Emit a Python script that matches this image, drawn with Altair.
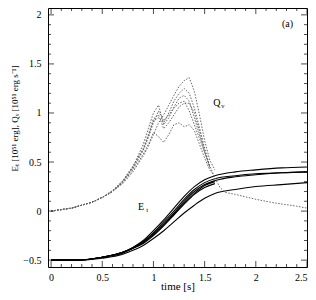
import altair as alt
import pandas as pd

# ---------------- data ----------------
t_E = [0, 0.25, 0.5, 0.7, 0.8, 0.9, 1.0, 1.1, 1.2, 1.3, 1.4, 1.5, 1.6, 1.8, 2.0, 2.25, 2.5]
E1 = [-0.5, -0.5, -0.47, -0.42, -0.37, -0.30, -0.20, -0.09, 0.03, 0.15, 0.25, 0.32, 0.36, 0.40, 0.42, 0.44, 0.45]
E2 = [-0.5, -0.5, -0.47, -0.42, -0.37, -0.31, -0.22, -0.11, 0.00, 0.12, 0.22, 0.29, 0.33, 0.36, 0.38, 0.39, 0.40]
E3 = [-0.5, -0.5, -0.47, -0.42, -0.38, -0.32, -0.23, -0.13, -0.02, 0.10, 0.20, 0.27, 0.31, 0.35, 0.37, 0.39, 0.40]
E4 = [-0.5, -0.5, -0.47, -0.43, -0.38, -0.33, -0.25, -0.15, -0.04, 0.07, 0.17, 0.24, 0.28]
E5 = [-0.5, -0.5, -0.48, -0.44, -0.40, -0.35, -0.28, -0.20, -0.11, -0.02, 0.06, 0.13, 0.18, 0.22, 0.25, 0.27, 0.29]
E6 = [-0.5, -0.5, -0.47, -0.42, -0.38, -0.32, -0.24, -0.14, -0.03, 0.08, 0.18, 0.26, 0.30]

t_Q = [0, 0.2, 0.4, 0.5, 0.6, 0.7, 0.8, 0.9, 0.95, 1.0, 1.05, 1.1, 1.15, 1.2, 1.25, 1.3,
       1.35, 1.4, 1.45, 1.5, 1.55, 1.6, 1.65, 1.7, 1.8, 2.0, 2.2, 2.4, 2.5]
Q1 = [0, 0.03, 0.09, 0.14, 0.20, 0.28, 0.40, 0.56, 0.66, 0.78, 0.90, 0.98, 1.08, 1.18, 1.27, 1.33,
      1.36, 1.22, 0.98, 0.72, 0.52, 0.42]
Q2 = [0, 0.03, 0.09, 0.14, 0.20, 0.30, 0.45, 0.68, 0.84, 1.00, 1.08, 0.88, 0.95, 1.06, 1.15, 1.18,
      1.12, 0.95, 0.78, 0.60, 0.44]
Q3 = [0, 0.03, 0.09, 0.14, 0.21, 0.31, 0.46, 0.64, 0.78, 0.94, 0.98, 0.84, 0.90, 0.98, 1.06, 1.10,
      1.10, 1.00, 0.82, 0.62, 0.45]
Q4 = [0, 0.03, 0.09, 0.14, 0.20, 0.29, 0.42, 0.58, 0.68, 0.80, 0.76, 0.70, 0.78, 0.88, 0.90, 0.86,
      0.88, 0.82, 0.68, 0.54, 0.42, 0.35]
Q5 = [0, 0.03, 0.09, 0.14, 0.20, 0.30, 0.44, 0.62, 0.75, 0.90, 1.02, 0.92, 0.98, 1.05, 1.10, 1.12,
      1.02, 0.88, 0.74, 0.60, 0.46, 0.34, 0.24, 0.19, 0.17, 0.12, 0.08, 0.05, 0.03]
Q6 = [0, 0.03, 0.09, 0.14, 0.20, 0.30, 0.44, 0.62, 0.76, 0.92, 0.95, 0.90, 1.00, 1.12, 1.20, 1.25,
      1.20, 1.05, 0.85, 0.64, 0.46]

x_major = [0, 0.5, 1, 1.5, 2, 2.5]
x_minor = [0.1, 0.2, 0.3, 0.4, 0.6, 0.7, 0.8, 0.9, 1.1, 1.2, 1.3, 1.4,
           1.6, 1.7, 1.8, 1.9, 2.1, 2.2, 2.3, 2.4]
y_major = [-0.5, 0, 0.5, 1, 1.5, 2]
y_minor = [-0.4, -0.3, -0.2, -0.1, 0.1, 0.2, 0.3, 0.4, 0.6, 0.7, 0.8, 0.9,
           1.1, 1.2, 1.3, 1.4, 1.6, 1.7, 1.8, 1.9]

ann_text = ["(a)", "Q", "E"]
ann_x = [2.31, 1.62, 0.88]
ann_y = [1.91, 1.10, 0.04]
sub_text = ["ν", "t"]
sub_x = [1.62, 0.88]
sub_y = [1.10, 0.04]

# ---------------- build tables ----------------
rows_E = []
for name, ys in [("E1", E1), ("E2", E2), ("E3", E3), ("E4", E4), ("E5", E5), ("E6", E6)]:
    for t, v in zip(t_E, ys):
        rows_E.append({"curve": name, "t": t, "v": v})
dfE = pd.DataFrame(rows_E)

rows_Q = []
for name, ys in [("Q1", Q1), ("Q2", Q2), ("Q3", Q3), ("Q4", Q4), ("Q5", Q5), ("Q6", Q6)]:
    for t, v in zip(t_Q, ys):
        rows_Q.append({"curve": name, "t": t, "v": v})
dfQ = pd.DataFrame(rows_Q)

dfA = pd.DataFrame({"t": ann_x, "v": ann_y, "label": ann_text})
dfS = pd.DataFrame({"t": sub_x, "v": sub_y, "label": sub_text})

W, H = 259, 259
XS = alt.Scale(domain=[-0.03, 2.5], nice=False, zero=False)
YS = alt.Scale(domain=[-0.57, 2.07], nice=False, zero=False)
FONT = "Liberation Serif"

x_axis = alt.Axis(values=x_major, format="~g", ticks=False, domain=False, grid=False,
                  title="time [s]", labelFont=FONT, labelFontSize=10, labelColor="black",
                  labelPadding=5, labelFlush=True, titleFont=FONT, titleFontSize=11,
                  titleFontWeight=400, titleColor="black", titleBaseline="middle",
                  titleY=19)
y_axis = alt.Axis(values=y_major, format="~g", ticks=False, domain=False, grid=False,
                  title="Eₜ [10⁵¹ erg],  Qᵥ [10⁵¹ erg s⁻¹]", labelFont=FONT,
                  labelFontSize=10, labelColor="black", labelPadding=7, labelFlush=False,
                  titleFont=FONT, titleFontSize=9, titleFontWeight=400,
                  titleColor="black", titleBaseline="middle", titleX=-34, titleY=110)

lineE = alt.Chart(dfE).mark_line(color="black", strokeWidth=1.1, interpolate="monotone").encode(
    x=alt.X("t:Q", scale=XS, axis=x_axis),
    y=alt.Y("v:Q", scale=YS, axis=y_axis),
    detail="curve:N",
)

lineQ = alt.Chart(dfQ).mark_line(color="#666666", strokeWidth=1.0, strokeDash=[1.5, 1.5]).encode(
    x=alt.X("t:Q", scale=XS),
    y=alt.Y("v:Q", scale=YS),
    detail="curve:N",
)


def xticks(vals, edge, size):
    return alt.Chart(pd.DataFrame({"t": vals})).mark_tick(
        color="black", thickness=1, size=size, orient="vertical", clip=True
    ).encode(x=alt.X("t:Q", scale=XS), y=alt.value(edge))


def yticks(vals, edge, size):
    return alt.Chart(pd.DataFrame({"v": vals})).mark_tick(
        color="black", thickness=1, size=size, orient="horizontal", clip=True
    ).encode(y=alt.Y("v:Q", scale=YS), x=alt.value(edge))


tick_layers = [
    xticks(x_major, 0, 12), xticks(x_major, H, 12),
    xticks(x_minor, 0, 6), xticks(x_minor, H, 6),
    yticks(y_major, 0, 12), yticks(y_major, W, 12),
    yticks(y_minor, 0, 6), yticks(y_minor, W, 6),
]

ann = alt.Chart(dfA).mark_text(font=FONT, fontSize=10, color="black").encode(
    x=alt.X("t:Q", scale=XS),
    y=alt.Y("v:Q", scale=YS),
    text="label:N",
)
sub = alt.Chart(dfS).mark_text(font=FONT, fontSize=7, color="black", dx=6, dy=3).encode(
    x=alt.X("t:Q", scale=XS),
    y=alt.Y("v:Q", scale=YS),
    text="label:N",
)

chart = alt.layer(lineE, lineQ, *tick_layers, ann, sub).properties(
    width=W, height=H,
    autosize=alt.AutoSizeParams(type="none"),
    padding={"left": 40, "top": 0, "right": 1, "bottom": 30},
    background="white",
).configure_view(stroke="black", strokeWidth=1)

chart.save("out.html", embed_options={"renderer": "svg", "actions": False})
